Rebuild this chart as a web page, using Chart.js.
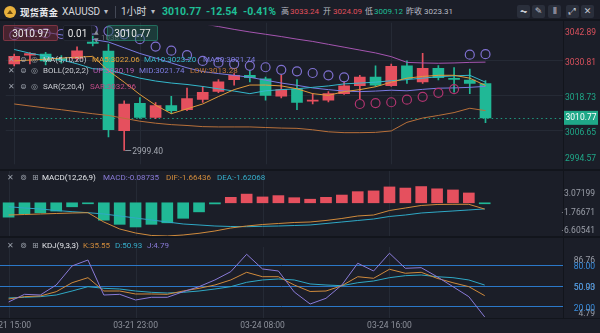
<!DOCTYPE html>
<html><head><meta charset="utf-8">
<script src="https://cdn.jsdelivr.net/npm/chart.js@4.4.1/dist/chart.umd.min.js"></script>
<style>
html,body{margin:0;padding:0;background:#1b1e28;}
#wrap{position:relative;width:600px;height:333px;overflow:hidden;background:#1b1e28;font-family:Roboto,"Noto Sans CJK SC",sans-serif;}
canvas{position:absolute;left:0;}
.t{position:absolute;white-space:nowrap;line-height:10px;font-size:8px;color:#c9ccd2;}
.h{position:absolute;white-space:nowrap;line-height:12px;font-size:8px;top:6px;}
.ic{position:absolute;white-space:nowrap;line-height:10px;font-size:8px;color:#9aa0aa;font-family:"DejaVu Sans",sans-serif;}
.sep{position:absolute;background:#12151c;}
.btn{position:absolute;top:5px;width:13px;height:13px;border-radius:2px;background:#2a2f3b;color:#c4c8d0;font-size:9px;line-height:13px;text-align:center;font-family:"DejaVu Sans",sans-serif;}
.box{position:absolute;top:25px;height:16px;line-height:16px;font-size:10px;text-align:center;color:#e6e6e6;border-radius:2px;box-sizing:border-box;}
</style></head>
<body>
<div id="wrap">
  <!-- header -->
  <div style="position:absolute;left:4px;top:6px;width:12px;height:12px;border-radius:6px;background:#e9b13c;"></div>
  <div style="position:absolute;left:7px;top:10px;width:6px;height:4px;background:#6b4a10;clip-path:polygon(50% 0,100% 100%,0 100%);"></div>
  <span class="h" style="left:20px;color:#e9eaee;font-weight:bold;font-size:9.5px;font-family:'Noto Sans CJK SC',sans-serif;">现货黄金</span>
  <span class="h" style="left:62px;color:#d6d8dd;font-size:10px;">XAUUSD</span>
  <span class="h" style="left:104px;color:#b8bcc4;font-size:8px;">▾</span>
  <div style="position:absolute;left:115px;top:6px;width:1px;height:12px;background:#444956;"></div>
  <span class="h" style="left:121px;color:#d6d8dd;font-size:10px;font-family:Roboto,'Noto Sans CJK SC',sans-serif;">1小时</span>
  <span class="h" style="left:151px;color:#b8bcc4;font-size:8px;">▾</span>
  <span class="h" style="left:162px;color:#1fbf96;font-weight:bold;font-size:10.5px;">3010.77</span>
  <span class="h" style="left:206px;color:#1fbf96;font-weight:bold;font-size:10.5px;">-12.54</span>
  <span class="h" style="left:243px;color:#1fbf96;font-weight:bold;font-size:10.5px;">-0.41%</span>
  <span class="h" style="left:281px;color:#b8bcc4;">高</span>
  <span class="h" style="left:290px;color:#e0505c;">3033.24</span>
  <span class="h" style="left:323px;color:#b8bcc4;">开</span>
  <span class="h" style="left:333px;color:#e0505c;">3024.09</span>
  <span class="h" style="left:365px;color:#b8bcc4;">低</span>
  <span class="h" style="left:374px;color:#1fbf96;">3009.12</span>
  <span class="h" style="left:406px;color:#b8bcc4;">昨收</span>
  <span class="h" style="left:424px;color:#b8bcc4;">3023.31</span>
  <div class="btn" style="left:517px;">⏦</div>
  <div class="btn" style="left:532px;">✎</div>
  <div class="btn" style="left:548px;">⫴</div>
  <div class="btn" style="left:566px;">⤢</div>
  <div class="btn" style="left:581px;">✕</div>
  <div class="sep" style="left:0;top:19px;width:600px;height:2px;"></div>

  <canvas id="cMain" width="600" height="150" style="top:20px;"></canvas>
  <canvas id="cMacd" width="600" height="67" style="top:170px;"></canvas>
  <canvas id="cKdj" width="600" height="96" style="top:237px;"></canvas>

  <div class="sep" style="left:0;top:169px;width:600px;height:2px;"></div>
  <div class="sep" style="left:0;top:236px;width:600px;height:2px;"></div>
  <div class="sep" style="left:563px;top:20px;width:1px;height:298px;"></div>

  <!-- order panel -->
  <div class="box" style="left:3px;width:55px;background:rgba(110,40,52,0.55);border:1px solid rgba(170,70,84,0.55);">3010.97</div>
  <div class="box" style="left:63px;width:29px;background:#151820;border:1px solid #242833;">0.01</div>
  <span class="ic" style="left:94px;top:27px;font-size:6px;color:#8a8f99;">▲</span>
  <span class="ic" style="left:94px;top:35px;font-size:6px;color:#8a8f99;">▼</span>
  <span class="t" style="left:101px;top:33px;color:rgba(160,165,175,0.55);">1038</span>
  <div class="box" style="left:107px;width:51px;background:rgba(30,96,80,0.45);border:1px solid rgba(40,160,128,0.5);">3010.77</div>

  <!-- main legends -->
  <span class="ic" style="left:8px;top:55px;">✕</span><span class="ic" style="left:20px;top:55px;">⊜</span><span class="ic" style="left:31px;top:55px;">◎</span>
  <span class="t" style="left:43px;top:55px;">MA(5,10,20)</span>
  <span class="t" style="left:92px;top:55px;color:#e3a13b;">MA5:3022.06</span>
  <span class="t" style="left:144px;top:55px;color:#36b9cc;">MA10:3023.20</span>
  <span class="t" style="left:203px;top:55px;color:#7d7ce0;">MA30:3021.74</span>
  <span class="ic" style="left:8px;top:66px;">✕</span><span class="ic" style="left:20px;top:66px;">⊜</span><span class="ic" style="left:31px;top:66px;">◎</span>
  <span class="t" style="left:43px;top:66px;">BOLL(20,2,2)</span>
  <span class="t" style="left:93px;top:66px;color:#b65bb0;">UP:3030.19</span>
  <span class="t" style="left:139px;top:66px;color:#7d7ce0;">MID:3021.74</span>
  <span class="t" style="left:190px;top:66px;color:#c0763a;">LOW:3013.28</span>
  <span class="ic" style="left:8px;top:82px;">✕</span><span class="ic" style="left:20px;top:82px;">⊜</span><span class="ic" style="left:31px;top:82px;">◎</span>
  <span class="t" style="left:43px;top:82px;">SAR(2,20,4)</span>
  <span class="t" style="left:90px;top:82px;color:#c04a86;">SAR:3032.96</span>

  <!-- MACD legend -->
  <span class="ic" style="left:7px;top:173px;">✕</span><span class="ic" style="left:20px;top:173px;">⊚</span><span class="ic" style="left:32px;top:173px;">⊞</span>
  <span class="t" style="left:42px;top:173px;color:#e4e6ea;">MACD(12,26,9)</span>
  <span class="t" style="left:103px;top:173px;color:#8a7bd8;">MACD:-0.08735</span>
  <span class="t" style="left:166px;top:173px;color:#d08b3c;">DIF:-1.66436</span>
  <span class="t" style="left:217px;top:173px;color:#36aecb;">DEA:-1.62068</span>

  <!-- KDJ legend -->
  <span class="ic" style="left:7px;top:241px;">✕</span><span class="ic" style="left:20px;top:241px;">⊚</span><span class="ic" style="left:32px;top:241px;">⊞</span>
  <span class="t" style="left:42px;top:241px;color:#e4e6ea;">KDJ(9,3,3)</span>
  <span class="t" style="left:83px;top:241px;color:#d08b3c;">K:35.55</span>
  <span class="t" style="left:115px;top:241px;color:#36aecb;">D:50.93</span>
  <span class="t" style="left:147px;top:241px;color:#8a7bd8;">J:4.79</span>
</div>

<script>
// hourly bars, XAUUSD
const times = ['03-21 15:00','03-21 16:00','03-21 17:00','03-21 18:00','03-21 19:00','03-21 20:00','03-21 21:00','03-21 22:00','03-21 23:00','03-22 00:00','03-22 01:00','03-22 02:00','03-22 03:00','03-22 04:00','03-24 06:00','03-24 07:00','03-24 08:00','03-24 09:00','03-24 10:00','03-24 11:00','03-24 12:00','03-24 13:00','03-24 14:00','03-24 15:00','03-24 16:00','03-24 17:00','03-24 18:00','03-24 19:00','03-24 20:00','03-24 21:00','03-24 22:00'];
const timeTickIdx = [0, 8, 16, 24];

const open  = [3029.6,3032.6,3033.0,3031.4,3031.5,3037.2,3034.0,3006.3,3015.8,3010.9,3015.0,3013.6,3017.2,3020.0,3024.1,3025.6,3024.4,3018.3,3020.8,3016.6,3016.9,3019.2,3022.0,3025.0,3022.0,3028.9,3023.3,3028.0,3024.4,3023.9,3022.7];
const high  = [3033.0,3033.5,3033.6,3032.5,3035.5,3039.3,3036.5,3016.7,3017.8,3016.1,3018.3,3021.1,3021.7,3024.1,3026.2,3027.2,3025.0,3025.6,3024.1,3019.2,3019.9,3023.4,3025.6,3028.9,3029.5,3030.6,3033.3,3029.0,3028.3,3027.8,3023.8];
const low   = [3028.9,3029.6,3029.2,3029.8,3030.8,3035.8,3004.1,2999.40,3010.6,3010.5,3012.2,3013.3,3016.1,3019.5,3022.2,3023.3,3016.9,3017.7,3013.6,3015.6,3016.3,3018.9,3017.4,3021.7,3021.7,3022.8,3022.8,3024.0,3019.7,3019.2,3009.12];
const close = [3032.2,3033.2,3030.6,3030.9,3034.1,3036.7,3006.6,3015.6,3010.9,3015.0,3013.3,3017.5,3019.7,3023.3,3025.6,3024.8,3018.6,3020.6,3016.1,3016.8,3019.2,3021.9,3025.0,3022.2,3028.7,3024.4,3028.0,3024.8,3024.2,3022.8,3010.77];

const ma5  = [3030.6,3030.9,3031.2,3031.6,3031.9,3032.2,3027.2,3023.2,3018.9,3015.2,3012.2,3013.9,3015.6,3018.2,3020.6,3022.2,3022.2,3021.9,3020.9,3019.2,3018.6,3019.9,3020.6,3021.6,3023.2,3024.6,3025.2,3025.6,3025.6,3024.6,3022.06];
const ma10 = [3034.6,3033.3,3032.3,3031.0,3029.6,3027.9,3027.6,3026.0,3024.6,3023.6,3022.9,3022.4,3021.7,3020.9,3020.1,3019.2,3020.2,3020.6,3020.9,3021.4,3021.9,3022.6,3022.9,3023.2,3023.7,3024.1,3024.6,3025.1,3025.4,3025.6,3023.20];
const bollMid = [3042.2,3041.4,3040.6,3039.7,3038.9,3038.1,3037.2,3035.2,3033.2,3031.6,3029.9,3028.2,3026.9,3026.2,3025.6,3024.9,3023.9,3022.9,3022.1,3021.2,3020.6,3020.1,3019.9,3020.1,3020.4,3020.2,3020.7,3021.1,3021.2,3021.4,3021.74];
const bollUp  = [null,null,null,null,null,null,null,null,null,null,null,3044.6,3043.6,3042.6,3041.6,3040.7,3039.9,3039.1,3038.2,3037.4,3036.4,3035.4,3034.4,3033.4,3032.1,3030.1,3029.9,3029.8,3029.9,3030.1,3030.19];
const bollLow = [3015.6,3014.9,3014.2,3013.6,3012.9,3012.2,3011.6,3010.6,3009.6,3008.9,3008.4,3008.1,3007.7,3007.6,3007.6,3007.6,3007.4,3007.2,3007.1,3006.6,3005.9,3005.6,3005.6,3005.7,3006.2,3009.2,3010.7,3011.6,3012.6,3014.1,3013.28];
const sar = [3039.6,3040.6,3040.3,3040.0,3039.7,3041.5,3041.0,3039.9,3038.2,3035.6,3034.2,3032.6,3030.6,3030.0,3029.5,3028.9,3028.4,3027.5,3027.0,3026.4,3025.6,3024.9,3015.6,3015.9,3016.2,3017.1,3018.1,3019.5,3020.8,3032.8,3032.96];

const macdHist = [-3.8,-2.9,-2.65,-2.2,-1.06,-0.2,-4.6,-5.7,-6.4,-5.7,-5.3,-4.1,-2.4,-0.3,1.45,2.3,1.55,1.9,1.35,0.95,1.45,2.05,2.95,3.15,4.2,3.9,4.3,3.7,3.4,2.6,-0.08735];
const dif = [-3.23,-3.10,-2.96,-2.83,-2.70,-2.62,-5.08,-6.93,-7.99,-8.65,-8.78,-8.52,-8.07,-7.46,-6.67,-6.14,-5.74,-5.48,-5.21,-5.08,-4.68,-4.15,-3.49,-3.23,-2.04,-1.38,-0.71,-0.45,-0.40,-0.40,-1.66436];
const dea = [-1.03,-1.38,-1.64,-2.04,-2.35,-2.62,-2.96,-3.49,-4.02,-4.55,-5.08,-5.61,-5.87,-6.14,-6.27,-6.32,-6.22,-6.14,-6.01,-5.87,-5.48,-5.08,-4.68,-4.29,-3.62,-3.23,-2.70,-2.43,-2.17,-1.90,-1.62068];

const kLine = [30.7,34.1,35.1,41.3,54.3,61.6,42.3,42.3,38.0,38.0,37.5,42.3,46.2,51.0,58.3,69.4,63.0,63.0,51.0,41.6,42.3,50.0,63.0,60.7,73.8,68.0,69.4,60.7,54.3,48.6,35.55];
const dLine = [32.2,33.2,34.1,36.5,42.3,48.6,46.2,45.2,42.3,40.4,39.4,40.4,42.3,45.2,48.6,54.9,58.3,59.7,58.3,52.5,51.0,50.0,54.3,56.8,61.6,64.5,65.5,63.0,61.6,58.3,50.93];
const jLine = [26.4,37.5,36.5,51.0,78.6,87.2,36.5,37.5,29.3,33.2,33.2,41.3,48.6,58.3,70.3,95.5,74.2,71.3,40.9,23.5,31.7,51.0,82.5,71.3,97.0,75.2,76.1,63.0,48.6,34.1,4.79];

// axis labels
const priceTicks = [3042.89, 3030.81, 3018.73, 3006.65, 2994.57];
const priceGrid = [3030.81, 3018.73, 3006.65];
const prevClose = 3023.31;
const lastPrice = 3010.77;
const lowMark = 2999.40;
const macdTicks = [3.07199, -1.76671, -6.60541];
const kdjLevels = [80, 50, 20];
const kdjExtra = [{v: 86.76, y: 261}, {v: 50.93, y: 287.5}, {v: 4.79, y: 314}];

const UP = '#e5505e', DOWN = '#20b896';
const GRID = '#252a35';
const AX = '#9a9ea8';
const xMin = -0.542, xMax = 34.934;
const idx = times.map((_, i) => i);
const pts = arr => arr.map((v, i) => ({x: i, y: v}));
const FONT = '8.5px Roboto, "Noto Sans", sans-serif';

function vGrid(chart) {
  const {ctx, chartArea: a, scales: {x}} = chart;
  ctx.save();
  ctx.strokeStyle = GRID; ctx.lineWidth = 1;
  timeTickIdx.forEach(i => {
    const px = Math.round(x.getPixelForValue(i)) + 0.5;
    ctx.beginPath(); ctx.moveTo(px, a.top - 3); ctx.lineTo(px, a.bottom); ctx.stroke();
  });
  ctx.restore();
}

const baseOpts = (pad, ymin, ymax) => ({
  responsive: false, animation: false, events: [],
  layout: {padding: pad},
  scales: {
    x: {type: 'linear', min: xMin, max: xMax, offset: false, display: false},
    y: {type: 'linear', min: ymin, max: ymax, display: false}
  },
  plugins: {legend: {display: false}, tooltip: {enabled: false}}
});
const line = (data, color, order) => ({type: 'line', data: pts(data), borderColor: color, borderWidth: 1, pointRadius: 0, tension: 0, order: order, clip: 0});

// price panel
const mainDecor = {
  id: 'mainDecor',
  beforeDatasetsDraw(chart) {
    const {ctx, chartArea: a, scales: {y}} = chart;
    vGrid(chart);
    ctx.save();
    ctx.strokeStyle = GRID; ctx.lineWidth = 1;
    priceGrid.forEach(v => {
      const py = Math.round(y.getPixelForValue(v)) + 0.5;
      ctx.beginPath(); ctx.moveTo(a.left, py); ctx.lineTo(a.right, py); ctx.stroke();
    });
    const ly = Math.round(y.getPixelForValue(lastPrice)) + 0.5;
    ctx.strokeStyle = 'rgba(32,184,150,0.8)'; ctx.setLineDash([1.5, 3]);
    ctx.beginPath(); ctx.moveTo(a.left, ly); ctx.lineTo(a.right, ly); ctx.stroke();
    ctx.restore();
  },
  afterDraw(chart) {
    const {ctx, chartArea: a, scales: {x, y}} = chart;
    ctx.save();
    ctx.font = FONT; ctx.textAlign = 'right'; ctx.textBaseline = 'middle';
    priceTicks.forEach(v => {
      let py = y.getPixelForValue(v) + 3;
      py = Math.max(a.top + 7, Math.min(a.bottom - 5, py));
      ctx.fillStyle = v > prevClose ? '#d9505c' : '#1fa888';
      ctx.fillText(v.toFixed(2), 596, py);
    });
    const ly = y.getPixelForValue(lastPrice);
    ctx.fillStyle = '#1fa888';
    ctx.fillRect(564, ly - 7, 34, 14);
    ctx.fillStyle = '#ffffff'; ctx.textAlign = 'center';
    ctx.fillText(lastPrice.toFixed(2), 581, ly + 0.5);
    // session low marker
    const li = low.indexOf(lowMark);
    const lx = x.getPixelForValue(li), lyy = Math.round(y.getPixelForValue(lowMark)) + 0.5;
    ctx.strokeStyle = '#8a8f99'; ctx.lineWidth = 1;
    ctx.beginPath(); ctx.moveTo(lx + 1, lyy); ctx.lineTo(lx + 7, lyy); ctx.stroke();
    ctx.fillStyle = '#a3a7b0'; ctx.textAlign = 'left';
    ctx.fillText(lowMark.toFixed(2), lx + 8, lyy + 1);
    ctx.restore();
  }
};

const candleColors = idx.map(i => close[i] >= open[i] ? UP : DOWN);
new Chart(document.getElementById('cMain'), {
  type: 'bar',
  data: {datasets: [
    {type: 'bar', data: idx.map(i => ({x: i, y: [low[i], high[i]]})), backgroundColor: candleColors, barThickness: 1, grouped: false, order: 10},
    {type: 'bar', data: idx.map(i => ({x: i, y: [open[i], close[i]]})), backgroundColor: candleColors, barThickness: 11, minBarLength: 1, grouped: false, order: 9},
    line(bollLow, '#b8703a', 5),
    line(bollUp, '#a555b0', 5),
    line(bollMid, '#7b7be2', 4),
    line(ma10, '#34b8cc', 3),
    line(ma5, '#e09a3a', 2),
    {type: 'scatter', data: pts(sar), pointStyle: 'circle', pointRadius: 4.5, borderWidth: 1.2,
     pointBorderColor: idx.map(i => sar[i] > close[i] ? '#7f70d0' : '#b0346f'),
     pointBackgroundColor: 'rgba(0,0,0,0)', order: 1}
  ]},
  options: baseOpts({left: 0, right: 37, top: 3, bottom: 2}, 2994.57, 3042.89),
  plugins: [mainDecor]
});

// MACD panel
const macdDecor = {
  id: 'macdDecor',
  beforeDatasetsDraw(chart) { vGrid(chart); },
  afterDraw(chart) {
    const {ctx, scales: {y}} = chart;
    ctx.save();
    ctx.font = FONT; ctx.textAlign = 'right'; ctx.textBaseline = 'middle'; ctx.fillStyle = AX;
    macdTicks.forEach(v => ctx.fillText(v.toFixed(5), 595, y.getPixelForValue(v) + 3));
    ctx.restore();
  }
};
new Chart(document.getElementById('cMacd'), {
  type: 'bar',
  data: {datasets: [
    {type: 'bar', data: pts(macdHist), backgroundColor: macdHist.map(v => v >= 0 ? UP : DOWN), barThickness: 11, minBarLength: 1, order: 5},
    line(dea, '#2fa9c6', 2),
    line(dif, '#d08b3c', 1)
  ]},
  options: baseOpts({left: 0, right: 37, top: 2, bottom: 0}, -9.05, 8.148),
  plugins: [macdDecor]
});

// KDJ panel and time axis
const kdjDecor = {
  id: 'kdjDecor',
  beforeDatasetsDraw(chart) {
    const {ctx, chartArea: a, scales: {y}} = chart;
    vGrid(chart);
    ctx.save();
    ctx.strokeStyle = '#2b78c8'; ctx.lineWidth = 1;
    kdjLevels.forEach(v => {
      const py = Math.round(y.getPixelForValue(v)) + 0.5;
      ctx.beginPath(); ctx.moveTo(a.left, py); ctx.lineTo(a.right, py); ctx.stroke();
    });
    ctx.strokeStyle = '#12151c';
    ctx.beginPath(); ctx.moveTo(0, a.bottom + 0.5); ctx.lineTo(600, a.bottom + 0.5); ctx.stroke();
    ctx.restore();
  },
  afterDraw(chart) {
    const {ctx, chartArea: a, scales: {x, y}} = chart;
    ctx.save();
    ctx.font = FONT; ctx.textBaseline = 'middle'; ctx.textAlign = 'right';
    kdjExtra.forEach(e => { ctx.fillStyle = AX; ctx.fillText(e.v.toFixed(2), 595, e.y - 237); });
    kdjLevels.forEach(v => { ctx.fillStyle = '#3a8fe0'; ctx.fillText(v.toFixed(2), 595, y.getPixelForValue(v) + 2); });
    ctx.textAlign = 'center'; ctx.fillStyle = '#8d919b';
    timeTickIdx.forEach(i => ctx.fillText(times[i], x.getPixelForValue(i), a.bottom + 7.5));
    ctx.restore();
  }
};
new Chart(document.getElementById('cKdj'), {
  type: 'line',
  data: {datasets: [
    line(dLine, '#2fa9c6', 3),
    line(kLine, '#d08b3c', 2),
    line(jLine, '#8a7bd8', 1)
  ]},
  options: baseOpts({left: 0, right: 37, top: 13, bottom: 15}, 3.2, 101.7),
  plugins: [kdjDecor]
});
</script>
</body></html>
